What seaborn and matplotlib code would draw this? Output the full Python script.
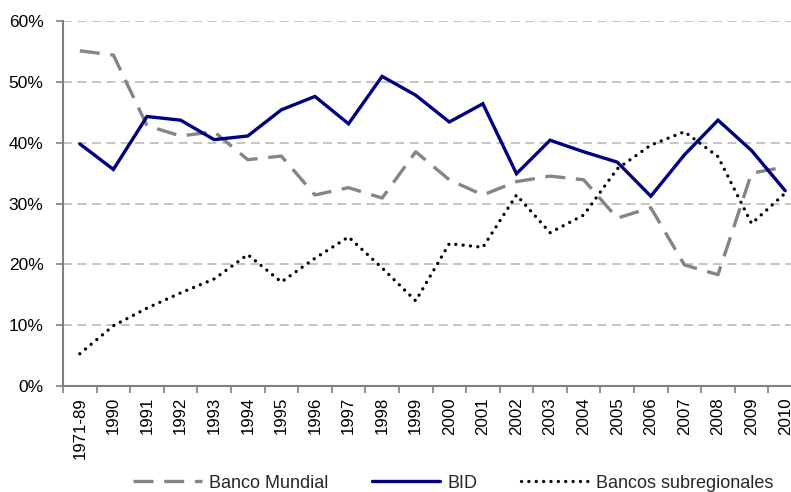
import numpy as np
import pandas as pd
import seaborn as sns
import matplotlib
matplotlib.use("Agg")
import matplotlib.pyplot as plt
from matplotlib.ticker import PercentFormatter

categories = ["1971-89"] + [str(y) for y in range(1990, 2011)]
banco_mundial = [55.1, 54.4, 42.8, 41.1, 41.8, 37.2, 37.8, 31.4, 32.6, 30.9, 38.5,
                 33.9, 31.4, 33.6, 34.5, 33.9, 27.6, 29.3, 19.9, 18.3, 35.0, 36.0]
bid = [39.8, 35.6, 44.3, 43.7, 40.5, 41.1, 45.4, 47.6, 43.1, 50.9, 47.8,
       43.4, 46.4, 34.9, 40.4, 38.5, 36.8, 31.2, 38.0, 43.7, 38.7, 32.1]
subregionales = [5.3, 9.9, 12.8, 15.3, 17.6, 21.6, 17.1, 21.0, 24.5, 19.4, 14.0,
                 23.4, 22.8, 31.4, 25.2, 28.1, 35.7, 39.6, 41.8, 37.7, 26.7, 31.7]
series_names = ["Banco Mundial", "BID", "Bancos subregionales"]

sns.set_theme(style="white")
plt.rcParams['font.family'] = ['Liberation Sans', 'DejaVu Sans']

W, H = 791, 492
fig = plt.figure(figsize=(W / 100, H / 100), dpi=100)
left, right, top, bottom = 63, 802, 21, 386
ax = fig.add_axes([left / W, 1 - bottom / H, (right - left) / W, (bottom - top) / H])

x = np.arange(len(categories))
styles = {
    "Banco Mundial": dict(color="#858585", lw=2.4, dashes=(6.0, 3.2), cap="butt"),
    "BID": dict(color="#000080", lw=2.4, dashes=None, cap="butt"),
    "Bancos subregionales": dict(color="#000000", lw=2.4, dashes=(0.01, 2.2), cap="round"),
}
vals = {"Banco Mundial": banco_mundial, "BID": bid, "Bancos subregionales": subregionales}

for name in series_names:
    st = styles[name]
    sns.lineplot(x=x, y=np.array(vals[name]) / 100, ax=ax, color=st["color"],
                 linewidth=st["lw"], label=name)
    line = ax.lines[-1]
    if st["dashes"] is not None:
        line.set_dashes(st["dashes"])
    line.set_dash_capstyle(st["cap"])
    line.set_solid_joinstyle("miter")

ax.set_xlim(-0.5, len(categories) - 0.5)
ax.set_ylim(0, 0.6)
ax.set_yticks(np.arange(0, 0.61, 0.1))
ax.yaxis.set_major_formatter(PercentFormatter(1.0, decimals=0))
ax.set_xticks(x)
ax.set_xticklabels(categories, rotation=90)
ax.set_xticks(np.arange(-0.5, len(categories), 1), minor=True)
ax.tick_params(axis="x", which="major", length=0, pad=8, labelsize=12.2, colors="black")
ax.tick_params(axis="x", which="minor", length=5, width=1.2, color="#808080", direction="out", bottom=True)
ax.tick_params(axis="y", length=5, width=1.2, color="#808080", direction="out", left=True,
               labelsize=12.5, pad=9, labelcolor="black")

ax.grid(axis="y", color="#C0C0C0", linestyle=(0, (5, 3)), linewidth=1.3)
ax.grid(axis="x", visible=False)
ax.set_axisbelow(True)
for s in ["top", "right"]:
    ax.spines[s].set_visible(False)
for s in ["left", "bottom"]:
    ax.spines[s].set_color("#808080")
    ax.spines[s].set_linewidth(1.5)
ax.set_xlabel("")
ax.set_ylabel("")

ax.legend_.remove()
handles = ax.lines[:3]
fig.legend(handles, series_names, loc="center", bbox_to_anchor=(453.5 / W, 1 - 483 / H),
           ncol=3, frameon=False, fontsize=13, handlelength=3.8, handletextpad=0.39,
           columnspacing=2.4)

fig.savefig("out.png", dpi=100)
